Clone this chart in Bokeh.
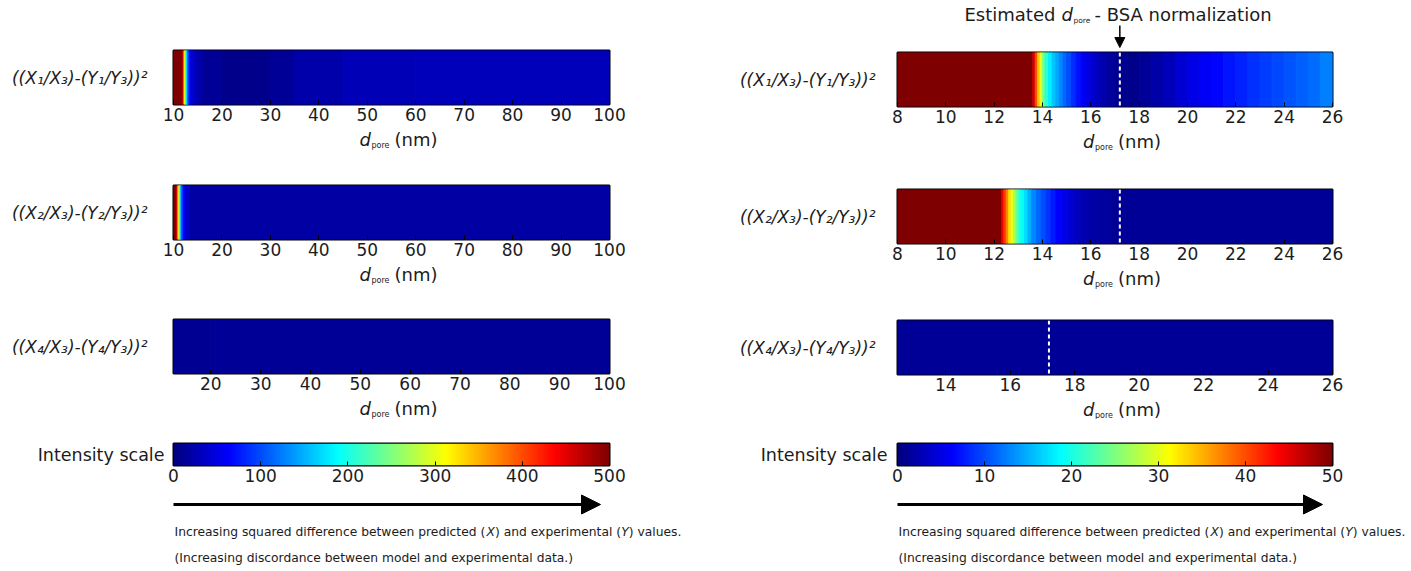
import numpy as np
from bokeh.plotting import figure
from bokeh.layouts import column, row
from bokeh.models import (Range1d, FixedTicker, LinearColorMapper, ColumnDataSource,
                          Label, Span, Arrow, NormalHead)
from bokeh.embed import file_html
from bokeh.resources import INLINE

# ---------------- data ----------------
left_ticks = [10, 20, 30, 40, 50, 60, 70, 80, 90, 100]
left_ticks_p3 = [20, 30, 40, 50, 60, 70, 80, 90, 100]
right_ticks = [8, 10, 12, 14, 16, 18, 20, 22, 24, 26]
right_ticks_p3 = [14, 16, 18, 20, 22, 24, 26]
left_cb_ticks = [0, 100, 200, 300, 400, 500]
right_cb_ticks = [0, 10, 20, 30, 40, 50]
left_scale = (0, 500)
right_scale = (0, 50)
left_range_12 = (10, 100)
left_range_3 = (12.5, 100)
right_range_12 = (8, 26)
right_range_3 = (12.5, 26)
estimated_dpore = 17.2

row_labels = ["((X\u2081/X\u2083)-(Y\u2081/Y\u2083))\u00b2",
              "((X\u2082/X\u2083)-(Y\u2082/Y\u2083))\u00b2",
              "((X\u2084/X\u2083)-(Y\u2084/Y\u2083))\u00b2"]

# left column (d_pore 10-100 nm, intensity scale 0-500)
L1_edges = [10.0, 11.9, 12.1, 12.3, 12.5, 12.7, 12.9, 13.2, 13.6, 14.5, 16, 20, 26, 30, 35, 45, 60, 80, 100]
L1_vals = [900, 470, 380, 300, 220, 170, 110, 70, 40, 25, 12, 7, 6, 12, 22, 28, 30, 31]
L2_edges = [10.0, 10.7, 10.9, 11.1, 11.3, 11.5, 11.7, 12.0, 12.5, 13.5, 100]
L2_vals = [700, 440, 350, 290, 210, 150, 100, 60, 35, 18]
L3_edges = [12.5, 20, 100]
L3_vals = [11, 12]

# right column (d_pore 8-26 nm, intensity scale 0-50)
R1_edges = [8.0, 13.6, 13.7, 13.8, 13.9, 14.0, 14.1, 14.25, 14.4, 14.55, 14.7, 14.85, 15.0, 15.2,
            15.4, 15.6, 15.8, 16.0, 16.2, 16.4, 16.6, 16.8, 17.0, 17.5, 18.0, 18.5, 19.0, 19.5,
            20.0, 20.5, 21.0, 21.5, 22.0, 22.5, 23.0, 23.5, 24.0, 24.5, 25.0, 25.5, 26.0]
R1_vals = [90, 46, 40, 34, 30, 25, 21, 18, 16, 14.5, 13, 11.5, 10, 8.5, 7.2, 6, 5, 4, 3.2, 2.5,
           1.9, 1.4, 0.9, 0.6, 1.2, 2.0, 3.0, 4.2, 5.2, 6.0, 6.6, 7.3, 8.0, 8.6, 9.2, 9.8, 10.4,
           11.0, 11.7, 12.6]
R2_edges = [8.0, 12.3, 12.4, 12.5, 12.6, 12.7, 12.8, 12.9, 13.0, 13.1, 13.25, 13.4, 13.55, 13.75,
            13.95, 14.15, 14.35, 14.55, 14.8, 15.05, 15.3, 15.6, 15.9, 16.3, 16.8, 26.0]
R2_vals = [90, 45, 41, 37, 33, 30, 27, 24, 21.5, 19, 17, 15, 13, 11.5, 10, 8.8, 7.5, 6.3, 5.2,
           4.2, 3.3, 2.5, 2.0, 1.6, 1.3]
R3_edges = [12.5, 26.0]
R3_vals = [1.3]


# ---------------- style helpers ----------------
def jet(n=256):
    out = []
    for i in range(n):
        f = i / (n - 1)
        r = min(max(1.5 - abs(4 * f - 3), 0), 1)
        g = min(max(1.5 - abs(4 * f - 2), 0), 1)
        b = min(max(1.5 - abs(4 * f - 1), 0), 1)
        out.append("#%02x%02x%02x" % (int(r * 255), int(g * 255), int(b * 255)))
    return out


JET = jet()
FONT = "DejaVu Sans"
TXT = "#1c1c1c"
FRAME_H = 54
CB_H = 22
BOT = 26


def new_fig(W, H, bl, br, bt, bb, xr, yr, outline=True, yaxis=False, xaxis=False):
    p = figure(width=W, height=H, x_range=Range1d(*xr), y_range=Range1d(*yr),
               output_backend="svg", toolbar_location=None,
               x_axis_location="below" if xaxis else None,
               y_axis_location="left" if yaxis else None,
               min_border_left=bl, min_border_right=br, min_border_top=bt, min_border_bottom=bb,
               outline_line_color="black" if outline else None, outline_line_width=2,
               background_fill_color="white", border_fill_color="white")
    p.xgrid.visible = False
    p.ygrid.visible = False
    return p


def style_x(ax, ticks):
    ax.ticker = FixedTicker(ticks=ticks)
    ax.axis_line_color = None
    ax.major_tick_in = 4
    ax.major_tick_out = 0
    ax.major_tick_line_color = "black"
    ax.minor_tick_line_color = None
    ax.major_label_text_font = FONT
    ax.major_label_text_font_size = "17px"
    ax.major_label_text_color = TXT
    ax.major_label_standoff = 3


def style_y_label(ax, text, size, standoff, italic):
    ax.ticker = FixedTicker(ticks=[1])
    ax.major_label_overrides = {1: text}
    ax.axis_line_color = None
    ax.major_tick_line_color = None
    ax.minor_tick_line_color = None
    ax.major_tick_in = 0
    ax.major_tick_out = 0
    ax.major_label_standoff = standoff
    ax.major_label_text_font = FONT
    ax.major_label_text_font_size = size
    ax.major_label_text_color = TXT
    ax.major_label_text_font_style = "italic" if italic else "normal"


def txt(p, x, y, text, size, dx=0, italic=False, align="left"):
    p.add_layout(Label(x=x, y=y, x_units="data", y_units="data", x_offset=dx,
                       text=text, text_font=FONT, text_font_size=size, text_color=TXT,
                       text_font_style="italic" if italic else "normal",
                       text_align=align, text_baseline="middle"))


def panel(W, bl, br, bt, xr, ticks, edges, vals, mapper, label, standoff, dashed=False):
    p = new_fig(W, bt + FRAME_H + BOT, bl, br, bt, BOT, xr, (0, 2), yaxis=True, xaxis=True)
    src = ColumnDataSource(dict(left=edges[:-1], right=edges[1:], val=vals))
    p.quad(left="left", right="right", bottom=0, top=2, source=src,
           fill_color={"field": "val", "transform": mapper},
           line_color={"field": "val", "transform": mapper}, line_width=1)
    style_x(p.xaxis[0], ticks)
    style_y_label(p.yaxis[0], label, "17px", standoff, True)
    if dashed:
        p.add_layout(Span(location=estimated_dpore, dimension="height", line_color="white",
                          line_width=2, line_dash="4 3"))
    return p


def axis_label_strip(W, H, bl, br, xr, yc):
    # "d_pore (nm)" centred under the panel above
    p = new_fig(W, H, bl, br, 0, 0, xr, (H, 0), outline=False)
    xm = (xr[0] + xr[1]) / 2
    txt(p, xm, yc, "d", "18px", dx=-32, italic=True)
    txt(p, xm, yc + 6, "pore", "8px", dx=-20)
    txt(p, xm, yc, "(nm)", "18px", dx=3)
    return p


def colorbar(W, bl, br, bt, scale, ticks, mapper, standoff):
    lo, hi = scale
    p = new_fig(W, bt + CB_H + BOT, bl, br, bt, BOT, scale, (0, 2), yaxis=True, xaxis=True)
    p.image(image=[np.linspace(lo, hi, 256).reshape(1, -1)], x=lo, y=0, dw=hi - lo, dh=2,
            color_mapper=mapper)
    style_x(p.xaxis[0], ticks)
    style_y_label(p.yaxis[0], "Intensity scale", "17.5px", standoff, False)
    return p


lmap = LinearColorMapper(palette=JET, low=left_scale[0], high=left_scale[1])
rmap = LinearColorMapper(palette=JET, low=right_scale[0], high=right_scale[1])

# ---------- left column: width 700, frame x 173..609 ----------
LW, LBL, LBR = 700, 173, 91
left_col = column(
    panel(LW, LBL, LBR, 50, left_range_12, left_ticks, L1_edges, L1_vals, lmap, row_labels[0], 26),
    axis_label_strip(LW, 31, LBL, LBR, left_range_12, 9),
    panel(LW, LBL, LBR, 24, left_range_12, left_ticks, L2_edges, L2_vals, lmap, row_labels[1], 26),
    axis_label_strip(LW, 30, LBL, LBR, left_range_12, 9),
    panel(LW, LBL, LBR, 24, left_range_3, left_ticks_p3, L3_edges, L3_vals, lmap, row_labels[2], 26),
    axis_label_strip(LW, 20, LBL, LBR, left_range_3, 9),
    colorbar(LW, LBL, LBR, 24, left_scale, left_cb_ticks, lmap, 9),
)

# ---------- right column: width 708, frame x 897..1332 ----------
RW, RBL, RBR = 708, 197, 76

title = new_fig(RW, 48, RBL, RBR, 0, 0, right_range_12, (48, 0), outline=False)
x0 = right_range_12[0]
txt(title, x0, 14, "Estimated", "18px", dx=67)
txt(title, x0, 14, "d", "18px", dx=164, italic=True)
txt(title, x0, 20, "pore", "7.5px", dx=176)
txt(title, x0, 14, "- BSA normalization", "18px", dx=197)
title.add_layout(Arrow(x_start=estimated_dpore, y_start=25, x_end=estimated_dpore, y_end=47,
                       line_width=1.5, line_color="black",
                       end=NormalHead(size=10, fill_color="black", line_color="black")))

right_col = column(
    title,
    panel(RW, RBL, RBR, 4, right_range_12, right_ticks, R1_edges, R1_vals, rmap, row_labels[0], 22, dashed=True),
    axis_label_strip(RW, 31, RBL, RBR, right_range_12, 9),
    panel(RW, RBL, RBR, 26, right_range_12, right_ticks, R2_edges, R2_vals, rmap, row_labels[1], 22, dashed=True),
    axis_label_strip(RW, 29, RBL, RBR, right_range_12, 9),
    panel(RW, RBL, RBR, 22, right_range_3, right_ticks_p3, R3_edges, R3_vals, rmap, row_labels[2], 22, dashed=True),
    axis_label_strip(RW, 19, RBL, RBR, right_range_3, 9),
    colorbar(RW, RBL, RBR, 24, right_scale, right_cb_ticks, rmap, 10),
)

# ---------- bottom strip (pixel coordinates): arrows and captions under both colour bars ----------
TW, BH = LW + RW, 78
bottom = new_fig(TW, BH, 0, 0, 0, 0, (0, TW), (BH, 0), outline=False)
S = "12.3px"
for xl, alen in ((LBL, 427), (LW + RBL, 425)):
    bottom.add_layout(Arrow(x_start=xl, y_start=13, x_end=xl + alen, y_end=13, line_width=3,
                            line_color="black",
                            end=NormalHead(size=19, fill_color="black", line_color="black")))
    xs = xl + 1
    txt(bottom, xs, 40, "Increasing squared difference between predicted (", S)
    txt(bottom, xs + 312.1, 40, "X", S, italic=True)
    txt(bottom, xs + 320.5, 40, ") and experimental (", S)
    txt(bottom, xs + 446.8, 40, "Y", S, italic=True)
    txt(bottom, xs + 454.3, 40, ") values.", S)
    txt(bottom, xs, 66, "(Increasing discordance between model and experimental data.)", S)

layout = column(row(left_col, right_col), bottom)
open("out.html", "w").write(file_html(layout, INLINE))
